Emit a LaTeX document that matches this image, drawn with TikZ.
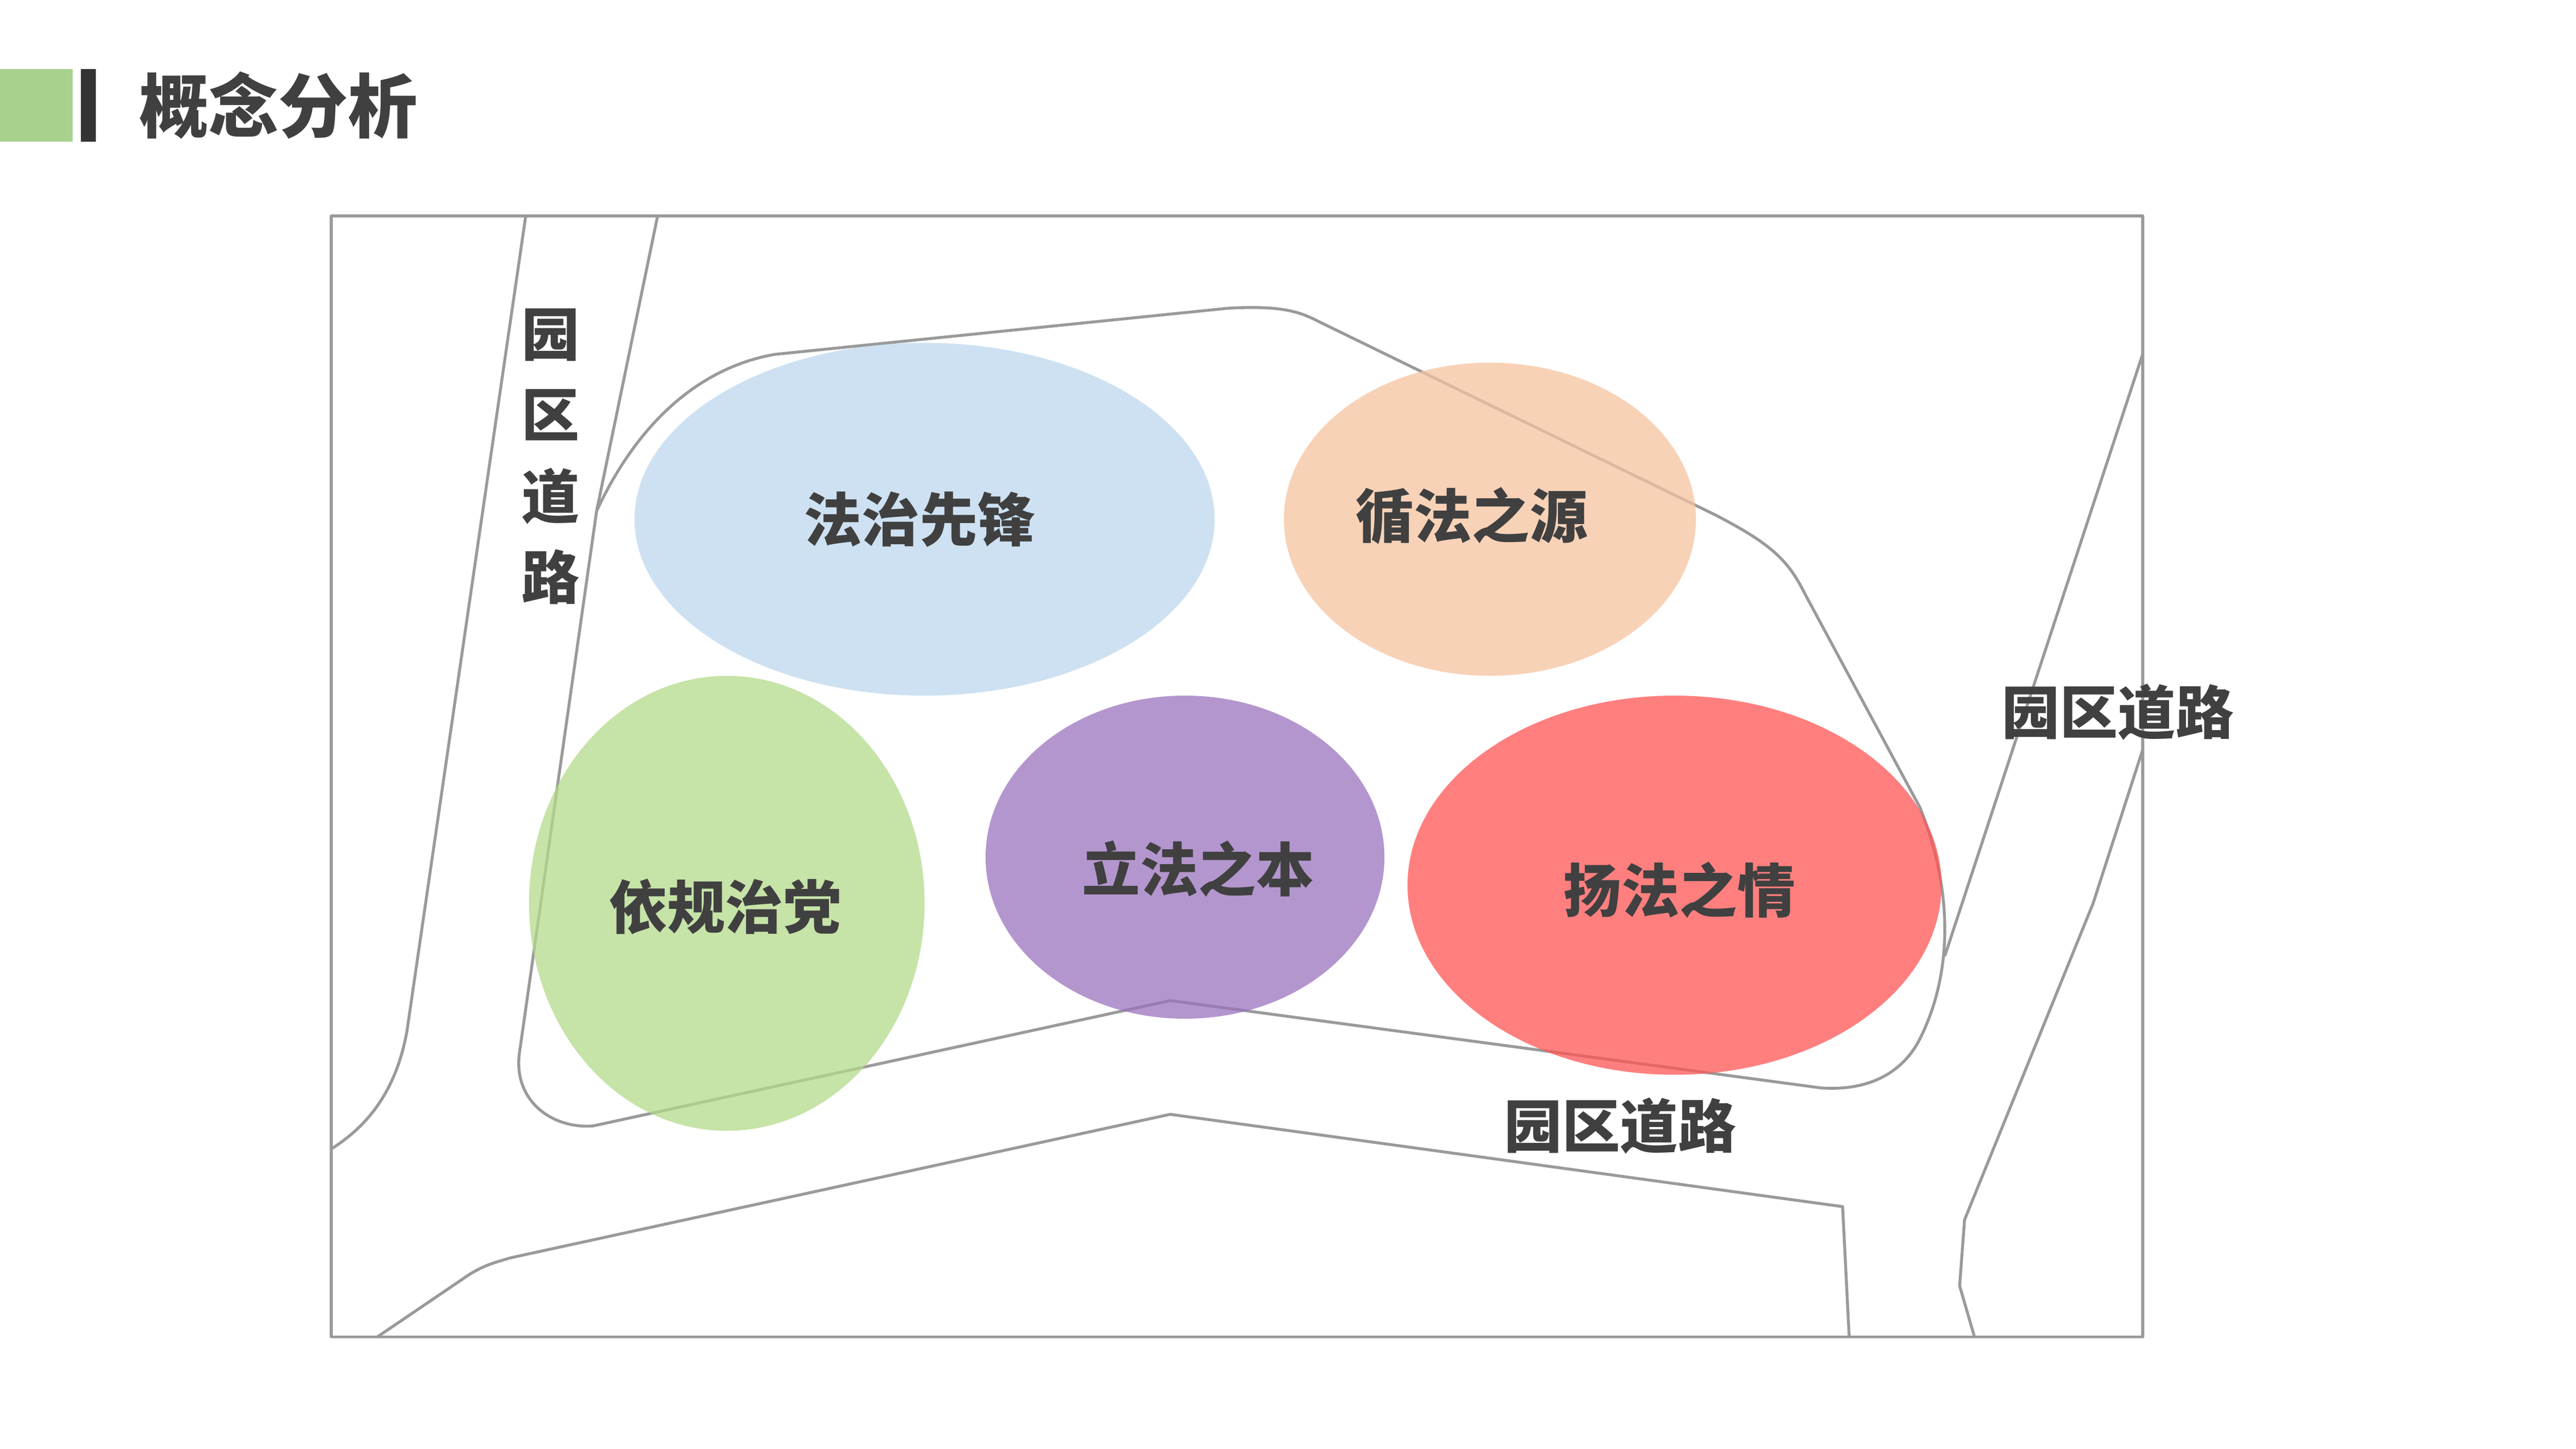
\documentclass[tikz,border=0pt]{standalone}
\usepackage{fontspec}
\newfontfamily\cjk{Noto Sans CJK SC}
\definecolor{txt}{HTML}{404040}
\definecolor{road}{HTML}{9A9A9A}
\tikzset{lab/.style={font=\cjk\bfseries\fontsize{10}{12}\selectfont,text=txt,inner sep=0pt},
rd/.style={draw=road,line width=0.5pt,line join=round},
el/.style={opacity=0.75}}
\begin{document}
\begin{tikzpicture}[x=0.01cm,y=-0.01cm]
\useasboundingbox (0,0) rectangle (1563,879);
\fill[white] (0,0) rectangle (1563,879);
\fill[fill={rgb,255:red,169;green,209;blue,142}] (0,42) rectangle (44,86);
\fill[fill={rgb,255:red,51;green,51;blue,51}] (49,42) rectangle (58,86);
\node[lab,anchor=west,font=\cjk\bfseries\fontsize{12}{14}\selectfont] (title) at (84,64) {概念分析};
\draw[rd] (201,131) rectangle (1300,811);
% left road
\draw[rd] (319,131) -- (247,625) .. controls (240,665) and (220,685) .. (201,697);
\draw[rd] (399,131) -- (362,310);
% inner loop
\draw[rd] (362,310) .. controls (390,250) and (430,222) .. (470,215) -- (745,187) .. controls (780,185) and (790,190) .. (800,195) -- (1040,312) .. controls (1075,330) and (1085,340) .. (1095,360) -- (1165,490) .. controls (1185,540) and (1185,590) .. (1165,630) .. controls (1155,650) and (1135,662) .. (1105,660) -- (710,607) -- (360,683) .. controls (335,685) and (312,668) .. (315,640) -- (362,310);
% bottom road
\draw[rd] (229,811) -- (285,773) .. controls (295,767) and (300,766) .. (310,763) -- (710,676) -- (1118,732) -- (1122,811);
% right road
\draw[rd] (1300,215) -- (1180,580);
\draw[rd] (1300,455) -- (1270,548) -- (1192,740) -- (1189,780) -- (1198,811);
% ellipses
\fill[el,fill={rgb,255:red,189;green,215;blue,238}] (561,315) ellipse [x radius=176,y radius=107];
\fill[el,fill={rgb,255:red,246;green,195;blue,160}] (904,315) ellipse [x radius=125,y radius=95];
\fill[el,fill={rgb,255:red,180;green,218;blue,140}] (441,548) ellipse [x radius=120,y radius=138];
\fill[el,fill={rgb,255:red,155;green,115;blue,190}] (719,520) ellipse [x radius=121,y radius=98];
\fill[el,fill={rgb,255:red,255;green,85;blue,85}] (1016,537) ellipse [x radius=162,y radius=115];
\node[lab] (a) at (558,315) {法治先锋};
\node[lab] (b) at (893,313) {循法之源};
\node[lab] (c) at (440,550) {依规治党};
\node[lab] (d) at (727,527) {立法之本};
\node[lab] (e) at (1019,540) {扬法之情};
\node[lab,align=center] (r1) at (334,277) {园\\[2pt]区\\[2pt]道\\[2pt]路};
\node[lab] (r2) at (1285,432) {园区道路};
\node[lab] (r3) at (983,683) {园区道路};
\end{tikzpicture}
\end{document}
